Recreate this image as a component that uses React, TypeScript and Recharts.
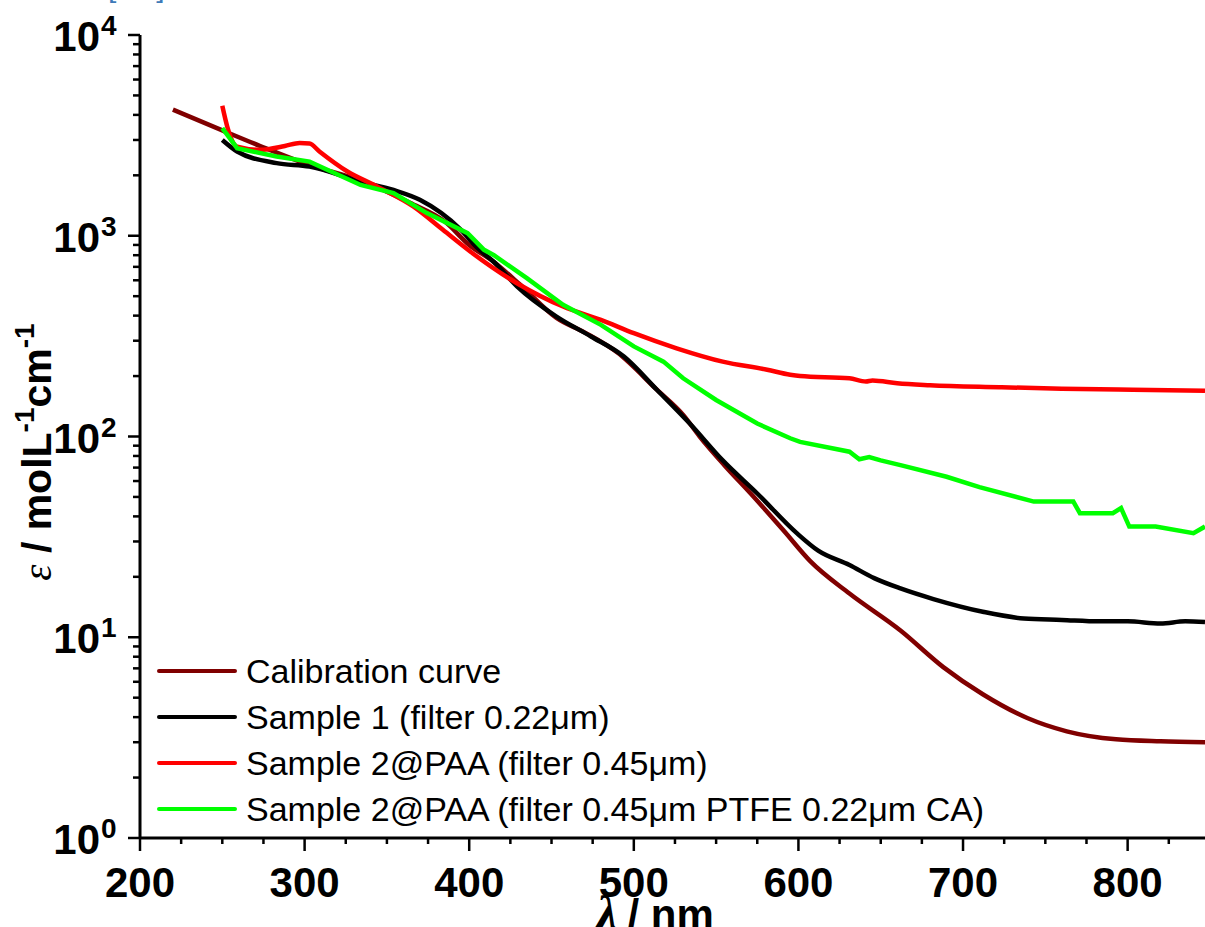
import React from "react";
import { LineChart, Line, XAxis, YAxis } from "recharts";

// wavelength (nm) and epsilon (mol^-1 L cm^-1)
const calibWl = [220, 250, 273, 303, 334, 364, 385, 400, 415, 431, 453, 470, 490, 514, 530, 540, 555, 571, 591, 607, 631, 662, 688, 712, 739, 763, 793, 820, 847];
const calibEps = [4250, 3350, 2800, 2250, 1880, 1460, 1180, 900, 740, 570, 390, 330, 262, 171, 128, 100, 72, 52, 34, 24, 16.5, 10.8, 7.1, 5.2, 3.96, 3.4, 3.1, 3.03, 3.0];

const s1Wl = [250, 259, 283, 303, 334, 354, 370, 395, 405, 415, 429, 453, 474, 494, 514, 534, 554, 575, 599, 612, 631, 646, 662, 682, 712, 737, 760, 783, 800, 820, 835, 847];
const s1Eps = [3000, 2630, 2300, 2210, 1860, 1690, 1510, 1070, 870, 740, 560, 396, 315, 250, 171, 116, 76, 52, 33, 27, 22.9, 19.7, 17.5, 15.5, 13.4, 12.4, 12.2, 12.0, 12.0, 11.7, 12.0, 11.9];

const s2Wl = [250, 253, 259, 273, 288, 297, 303, 309, 326, 344, 366, 384, 401, 429, 457, 480, 500, 526, 554, 581, 595, 601, 631, 641, 645, 660, 680, 722, 760, 803, 847];
const s2Eps = [4440, 3500, 2780, 2680, 2800, 2900, 2880, 2630, 2090, 1760, 1400, 1070, 830, 580, 444, 381, 327, 275, 236, 215, 203, 200, 195, 188, 190, 184, 180, 176, 173, 171, 169];

const s3Wl = [250, 259, 283, 303, 334, 354, 374, 399, 409, 415, 435, 457, 480, 500, 518, 530, 550, 575, 595, 601, 631, 637, 643, 650, 662, 690, 710, 743, 767, 771, 791, 796, 801, 817, 840, 847];
const s3Eps = [3435, 2730, 2480, 2340, 1790, 1630, 1300, 1030, 851, 800, 615, 453, 360, 281, 236, 195, 152, 116, 98, 94, 84, 77, 79, 76, 72, 63, 56, 47.4, 47.4, 41.5, 41.5, 44, 35.6, 35.6, 33, 35.6];

const seriesNames = [
  "Calibration curve",
  "Sample 1 (filter 0.22\u03bcm)",
  "Sample 2@PAA (filter 0.45\u03bcm)",
  "Sample 2@PAA (filter 0.45\u03bcm PTFE 0.22\u03bcm CA)",
];
const seriesColors = ["#800000", "#000000", "#ff0000", "#00ff00"];

const xTicks = [200, 225, 250, 275, 300, 325, 350, 375, 400, 425, 450, 475, 500, 525, 550, 575, 600, 625, 650, 675, 700, 725, 750, 775, 800, 825];
const yMajor = [1, 10, 100, 1000, 10000];
const yMinorFactors = [2, 3, 4, 5, 6, 7, 8, 9];

const yTicks = [
  ...yMajor,
  ...yMajor.slice(0, 4).flatMap((d) => yMinorFactors.map((f) => f * d)),
].sort((a, b) => a - b);

const toPoints = (wl: number[], eps: number[]) => wl.map((x, i) => ({ x, y: eps[i] }));

const series = [
  toPoints(calibWl, calibEps),
  toPoints(s1Wl, s1Eps),
  toPoints(s2Wl, s2Eps),
  toPoints(s3Wl, s3Eps),
];

const FONT = "'Liberation Sans', Arial, sans-serif";

function XTick(props: any) {
  const { x, y, payload } = props;
  const v = payload.value as number;
  const major = v % 100 === 0;
  return (
    <g>
      <line x1={x} x2={x} y1={y} y2={y + (major ? 13 : 6)} stroke="#000" strokeWidth={2.5} />
      {major && (
        <text x={x} y={y + 59} textAnchor="middle" fontFamily={FONT} fontWeight="bold" fontSize={42} fill="#000">
          {v}
        </text>
      )}
    </g>
  );
}

function YTick(props: any) {
  const { x, y, payload } = props;
  const v = payload.value as number;
  const major = yMajor.includes(v);
  const exp = Math.round(Math.log10(v));
  return (
    <g>
      <line x1={x - (major ? 12 : 7)} x2={x} y1={y} y2={y} stroke="#000" strokeWidth={2.5} />
      {major && (
        <g fontFamily={FONT} fontWeight="bold" fill="#000">
          <text x={x - 40} y={y + 16} textAnchor="end" fontSize={42}>
            10
          </text>
          <text x={x - 39} y={y} fontSize={28}>
            {exp}
          </text>
        </g>
      )}
    </g>
  );
}

function YLabel() {
  return (
    <text transform="translate(51, 452) rotate(-90)" textAnchor="middle" fontFamily={FONT} fontWeight="bold" fontSize={41} fill="#000">
      <tspan fontFamily="'Liberation Serif', serif" fontStyle="italic" fontWeight="normal">
        {"\u03b5"}
      </tspan>
      <tspan>{"  / molL"}</tspan>
      <tspan fontSize={28} dy={-17}>
        -1
      </tspan>
      <tspan dy={17}>cm</tspan>
      <tspan fontSize={28} dy={-17}>
        -1
      </tspan>
    </text>
  );
}

function XLabel() {
  return (
    <text x={655} y={929} textAnchor="middle" fontFamily={FONT} fontWeight="bold" fontSize={42} fill="#000">
      <tspan fontFamily="'Liberation Serif', serif" fontStyle="italic" fontSize={48}>
        {"\u03bb"}
      </tspan>
      <tspan dx={10}>{"/ nm"}</tspan>
    </text>
  );
}

export default function App() {
  return (
    <div style={{ position: "absolute", left: 0, top: 0, width: 1205, height: 927, background: "#fff", overflow: "hidden" }}>
      <LineChart width={1205} height={927} margin={{ top: 35, right: 0, bottom: 0, left: 0 }}>
        <XAxis
          type="number"
          dataKey="x"
          domain={[200, 847]}
          allowDataOverflow
          ticks={xTicks}
          interval={0}
          tickSize={0}
          tickMargin={0}
          tick={<XTick />}
          axisLine={{ stroke: "#000", strokeWidth: 3 }}
          height={89}
          label={<XLabel />}
        />
        <YAxis
          type="number"
          dataKey="y"
          scale="log"
          domain={[1, 10000]}
          allowDataOverflow
          ticks={yTicks}
          interval={0}
          tickSize={0}
          tickMargin={0}
          tick={<YTick />}
          axisLine={{ stroke: "#000", strokeWidth: 3 }}
          width={140}
          label={<YLabel />}
        />
        {series.map((data, i) => (
          <Line
            key={seriesNames[i]}
            data={data}
            dataKey="y"
            name={seriesNames[i]}
            type={i === 3 ? "linear" : "monotone"}
            stroke={seriesColors[i]}
            strokeWidth={4.5}
            dot={false}
            isAnimationActive={false}
          />
        ))}
      </LineChart>
      <div style={{ position: "absolute", left: 157, top: 648, fontFamily: FONT, fontSize: 34, color: "#000" }}>
        {seriesNames.map((name, i) => (
          <div key={name} style={{ display: "flex", alignItems: "center", height: 46, whiteSpace: "nowrap" }}>
            <div style={{ width: 80, height: 4.5, borderRadius: 2, background: seriesColors[i], marginRight: 9 }} />
            <span>{name}</span>
          </div>
        ))}
      </div>
      <div style={{ position: "absolute", left: 108, top: -30, fontFamily: FONT, fontSize: 30, color: "#3d7ab8", letterSpacing: 40 }}>
        []
      </div>
    </div>
  );
}
